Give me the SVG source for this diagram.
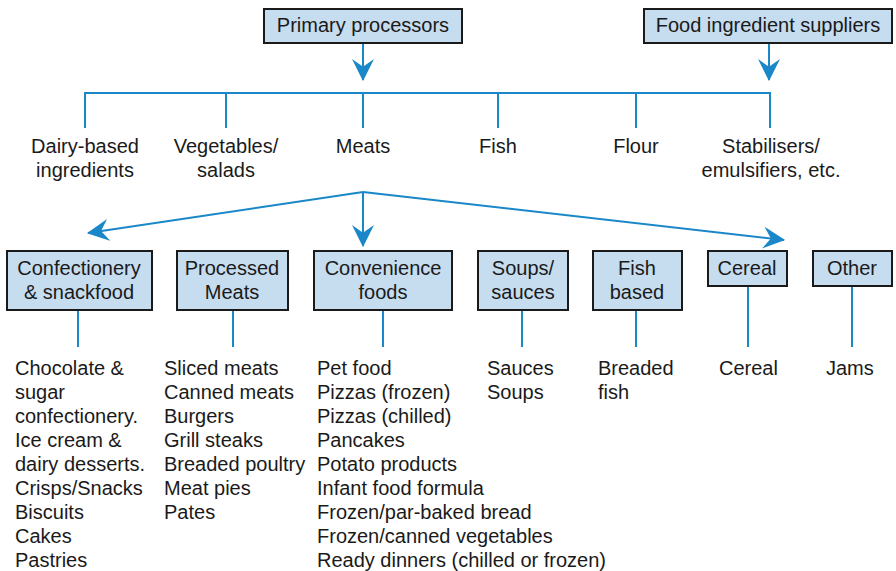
<svg xmlns="http://www.w3.org/2000/svg" width="896" height="571" viewBox="0 0 896 571">
<style>
.box{fill:#c6dcef;stroke:#1a1a1a;stroke-width:2}
.t{font-family:"Liberation Sans",Arial,sans-serif;font-size:20px;fill:#1a1a1a}
.c{text-anchor:middle}
.ln{fill:none;stroke:#1a87c8;stroke-width:2}
</style>
<defs>
<marker id="ah" markerUnits="userSpaceOnUse" markerWidth="22" markerHeight="22" viewBox="0 0 20 20" refX="19" refY="10" orient="auto">
<path d="M20,10 L0,0 L7,10 L0,20 Z" fill="#1a87c8"/>
</marker>
</defs>
<rect width="896" height="571" fill="#fff"/>

<g id="connectors">
<path class="ln" d="M363,43 V80" marker-end="url(#ah)"/>
<path class="ln" d="M769,43 V80" marker-end="url(#ah)"/>
<path class="ln" d="M85,128 V93 H770 V128"/>
<path class="ln" d="M226,93 V128 M363,93 V128 M498,93 V128 M636,93 V128"/>
<path class="ln" d="M363,192 L88,233" marker-end="url(#ah)"/>
<path class="ln" d="M363,192 V246" marker-end="url(#ah)"/>
<path class="ln" d="M363,192 L784,240" marker-end="url(#ah)"/>
<path class="ln" d="M78,310 V347 M233,310 V347 M383,310 V347 M522,310 V347 M636,310 V347 M748,286 V347 M852,286 V347"/>
</g>

<g id="primary">
<rect class="box" x="264" y="9" width="198" height="34"/>
<text class="t c" x="363" y="32">Primary processors</text>
</g>
<g id="suppliers">
<rect class="box" x="644" y="9" width="248" height="34"/>
<text class="t c" x="768" y="32">Food ingredient suppliers</text>
</g>

<g id="dairy"><text class="t c" x="85" y="153">Dairy-based</text><text class="t c" x="85" y="177">ingredients</text></g>
<g id="vegetables"><text class="t c" x="226" y="153">Vegetables/</text><text class="t c" x="226" y="177">salads</text></g>
<g id="meats"><text class="t c" x="363" y="153">Meats</text></g>
<g id="fish"><text class="t c" x="498" y="153">Fish</text></g>
<g id="flour"><text class="t c" x="636" y="153">Flour</text></g>
<g id="stabilisers"><text class="t c" x="771" y="153">Stabilisers/</text><text class="t c" x="771" y="177">emulsifiers, etc.</text></g>

<g id="confectionery">
<rect class="box" x="7" y="251" width="145" height="59"/>
<text class="t c" x="79" y="275">Confectionery</text><text class="t c" x="79" y="299">&amp; snackfood</text>
</g>
<g id="processed">
<rect class="box" x="177" y="251" width="111" height="59"/>
<text class="t c" x="232" y="275">Processed</text><text class="t c" x="232" y="299">Meats</text>
</g>
<g id="convenience">
<rect class="box" x="314" y="251" width="138" height="59"/>
<text class="t c" x="383" y="275">Convenience</text><text class="t c" x="383" y="299">foods</text>
</g>
<g id="soups">
<rect class="box" x="478" y="251" width="90" height="59"/>
<text class="t c" x="523" y="275">Soups/</text><text class="t c" x="523" y="299">sauces</text>
</g>
<g id="fishbased">
<rect class="box" x="593" y="251" width="89" height="59"/>
<text class="t c" x="637" y="275">Fish</text><text class="t c" x="637" y="299">based</text>
</g>
<g id="cereal">
<rect class="box" x="708" y="251" width="79" height="35"/>
<text class="t c" x="747" y="275">Cereal</text>
</g>
<g id="other">
<rect class="box" x="813" y="251" width="79" height="35"/>
<text class="t c" x="852" y="275">Other</text>
</g>

<g id="list-confectionery" class="t">
<text x="15" y="375">Chocolate &amp;</text>
<text x="15" y="399">sugar</text>
<text x="15" y="423">confectionery.</text>
<text x="15" y="447">Ice cream &amp;</text>
<text x="15" y="471">dairy desserts.</text>
<text x="15" y="495">Crisps/Snacks</text>
<text x="15" y="519">Biscuits</text>
<text x="15" y="543">Cakes</text>
<text x="15" y="567">Pastries</text>
</g>
<g id="list-processed" class="t">
<text x="164" y="375">Sliced meats</text>
<text x="164" y="399">Canned meats</text>
<text x="164" y="423">Burgers</text>
<text x="164" y="447">Grill steaks</text>
<text x="164" y="471">Breaded poultry</text>
<text x="164" y="495">Meat pies</text>
<text x="164" y="519">Pates</text>
</g>
<g id="list-convenience" class="t">
<text x="317" y="375">Pet food</text>
<text x="317" y="399">Pizzas (frozen)</text>
<text x="317" y="423">Pizzas (chilled)</text>
<text x="317" y="447">Pancakes</text>
<text x="317" y="471">Potato products</text>
<text x="317" y="495">Infant food formula</text>
<text x="317" y="519">Frozen/par-baked bread</text>
<text x="317" y="543">Frozen/canned vegetables</text>
<text x="317" y="567">Ready dinners (chilled or frozen)</text>
</g>
<g id="list-soups" class="t">
<text x="487" y="375">Sauces</text>
<text x="487" y="399">Soups</text>
</g>
<g id="list-fish" class="t">
<text x="598" y="375">Breaded</text>
<text x="598" y="399">fish</text>
</g>
<g id="list-cereal" class="t"><text x="719" y="375">Cereal</text></g>
<g id="list-other" class="t"><text x="826" y="375">Jams</text></g>
</svg>
